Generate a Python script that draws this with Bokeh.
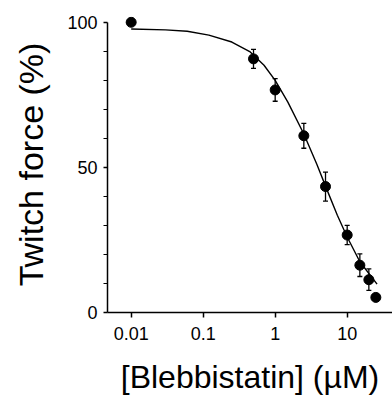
from bokeh.plotting import figure
from bokeh.models import ColumnDataSource, Whisker, TeeHead, FixedTicker, Range1d, CustomJSTickFormatter
from bokeh.embed import file_html
from bokeh.resources import INLINE

# measured data
conc = [0.01, 0.5, 1, 2.5, 5, 10, 15, 20, 25]
force = [100, 87.4, 76.7, 60.9, 43.4, 26.7, 16.3, 11.3, 5.2]
err = [0, 3.3, 3.9, 4.3, 5.0, 3.3, 3.9, 3.7, 0]

# fitted curve
fit_conc = [0.01, 0.03, 0.06, 0.12, 0.25, 0.45, 0.7, 1.0, 1.5, 2.5, 3.8, 5.3, 7.3, 10, 15, 26]
fit_force = [97.7, 97.4, 96.9, 95.6, 93.2, 89.8, 85.2, 80.0, 72.5, 61.5, 51.0, 42.0, 33.5, 26.0, 17.5, 9.8]

x_ticks = [0.01, 0.1, 1, 10]
x_tick_labels = ["0.01", "0.1", "1", "10"]
y_ticks = [0, 50, 100]
y_minor = [10, 20, 30, 40, 60, 70, 80, 90]

FONT = "Liberation Sans"

p = figure(x_axis_type="log", frame_width=285, frame_height=296,
           x_range=Range1d(0.00469, 42.6), y_range=Range1d(0, 102),
           output_backend="svg", toolbar_location=None,
           min_border_left=107, min_border_right=0, min_border_top=16, min_border_bottom=80)
p.outline_line_color = None
p.xgrid.visible = False
p.ygrid.visible = False
p.background_fill_color = "white"
p.border_fill_color = "white"

# curve
p.line(fit_conc, fit_force, line_color="black", line_width=1.4)

# error bars
ec, eb, eu = [], [], []
for c, f, e in zip(conc, force, err):
    if e > 0:
        ec.append(c); eb.append(f - e); eu.append(f + e)
wsrc = ColumnDataSource(dict(x=ec, lower=eb, upper=eu))
w = Whisker(source=wsrc, base="x", lower="lower", upper="upper", dimension="height",
            line_color="black", line_width=1.3,
            upper_head=TeeHead(size=5, line_color="black", line_width=1.3),
            lower_head=TeeHead(size=5, line_color="black", line_width=1.3))
p.add_layout(w)

p.scatter(conc, force, size=10, marker="circle", fill_color="black", line_color="black")

# x axis
xa = p.xaxis[0]
xa.ticker = FixedTicker(ticks=x_ticks, minor_ticks=[])
xa.formatter = CustomJSTickFormatter(args=dict(lbls=x_tick_labels, tvals=x_ticks),
    code="for (let i=0;i<tvals.length;i++){ if (Math.abs(Math.log10(tick)-Math.log10(tvals[i]))<1e-6) return lbls[i]; } return '';")
xa.axis_label = "[Blebbistatin] (µM)"
xa.axis_label_text_font = FONT
xa.axis_label_text_font_size = "32px"
xa.axis_label_text_font_style = "normal"
xa.axis_label_text_color = "black"
xa.axis_label_standoff = 16
xa.major_label_text_font = FONT
xa.major_label_text_font_size = "18px"
xa.major_label_text_color = "black"
xa.major_label_standoff = 9
xa.major_tick_out = 5
xa.major_tick_in = 0
xa.minor_tick_out = 0
xa.minor_tick_in = 0
xa.axis_line_width = 1.5
xa.axis_line_color = "black"
xa.major_tick_line_width = 1.5
xa.major_tick_line_color = "black"

# y axis
ya = p.yaxis[0]
ya.ticker = FixedTicker(ticks=y_ticks, minor_ticks=y_minor)
ya.bounds = (0, 100)
ya.axis_label = "Twitch force (%)"
ya.axis_label_text_font = FONT
ya.axis_label_text_font_size = "34px"
ya.axis_label_text_font_style = "normal"
ya.axis_label_text_color = "black"
ya.axis_label_standoff = 14
ya.major_label_text_font = FONT
ya.major_label_text_font_size = "18px"
ya.major_label_text_color = "black"
ya.major_label_standoff = 6
ya.major_tick_out = 4
ya.major_tick_in = 0
ya.minor_tick_out = 4
ya.minor_tick_in = 0
ya.axis_line_width = 1.5
ya.axis_line_color = "black"
ya.major_tick_line_width = 1.5
ya.major_tick_line_color = "black"
ya.minor_tick_line_width = 1.2
ya.minor_tick_line_color = "black"

open("out.html", "w").write(file_html(p, INLINE))
